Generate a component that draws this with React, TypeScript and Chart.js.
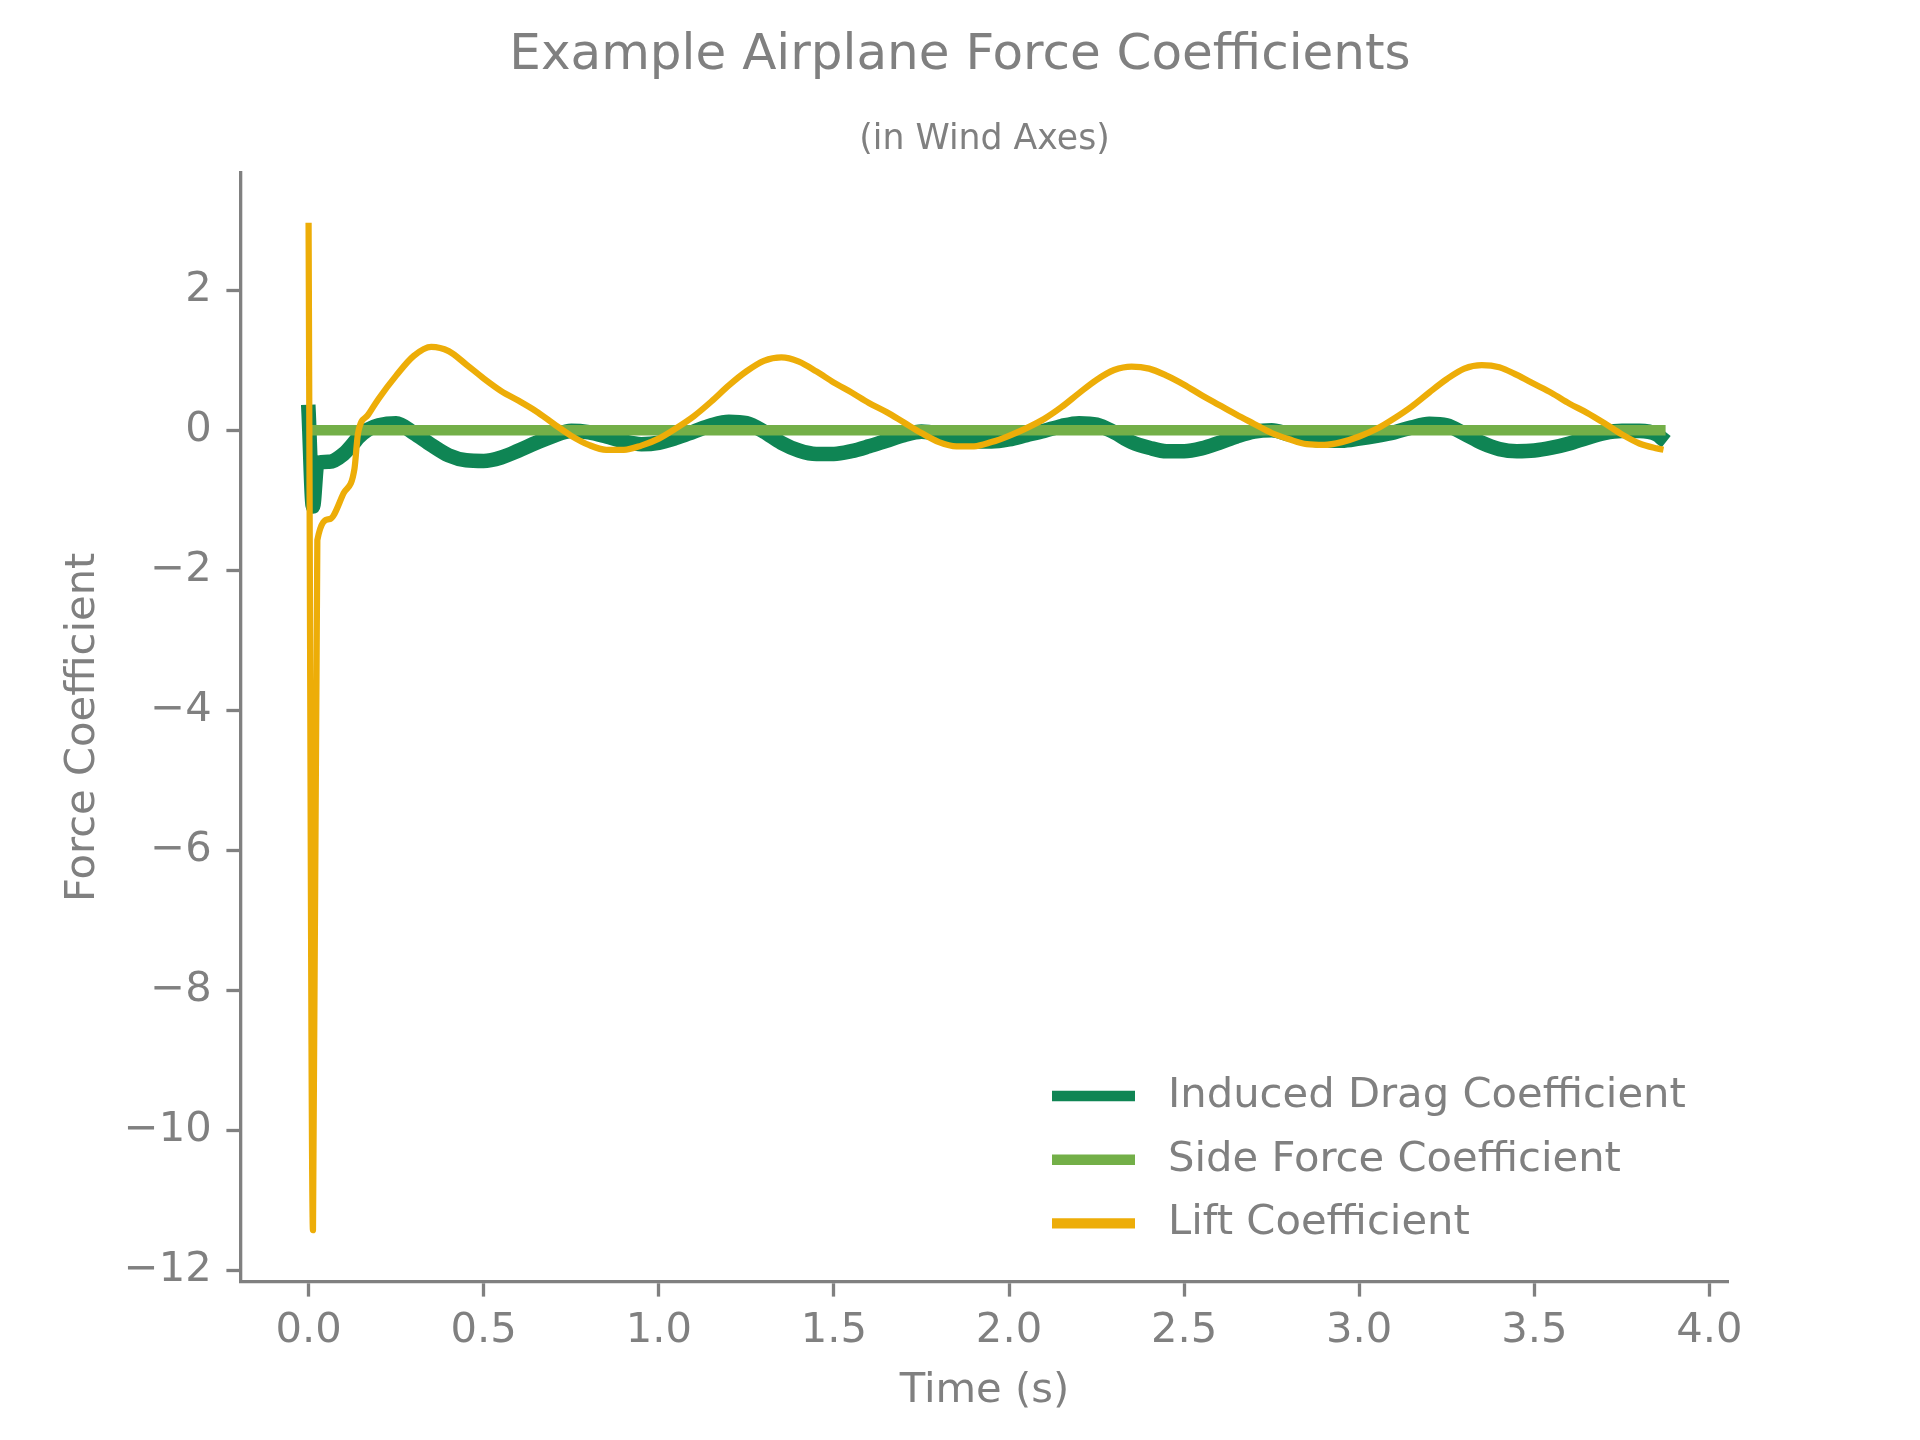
import { useEffect, useRef } from "react";
import { Chart, registerables } from "chart.js";

Chart.register(...registerables);

// Simulation time stamps (s)
const TIME = [
  0, 0.0125, 0.025, 0.06, 0.1, 0.131, 0.141, 0.17, 0.2,
  0.25, 0.3, 0.35, 0.4, 0.45, 0.5, 0.55, 0.6, 0.65, 0.7, 0.75, 0.8, 0.85, 0.9, 0.95,
  1.0, 1.05, 1.1, 1.15, 1.2, 1.25, 1.3, 1.35, 1.4, 1.45, 1.5, 1.55, 1.6, 1.65, 1.7, 1.75,
  1.8, 1.85, 1.9, 1.95, 2.0, 2.05, 2.1, 2.15, 2.2, 2.25, 2.3, 2.35, 2.4, 2.45, 2.5, 2.55,
  2.6, 2.65, 2.7, 2.75, 2.8, 2.85, 2.9, 2.95, 3.0, 3.05, 3.1, 3.15, 3.2, 3.25, 3.3, 3.35,
  3.4, 3.45, 3.5, 3.55, 3.6, 3.65, 3.7, 3.75, 3.8, 3.85, 3.86,
];

const INDUCED_DRAG = [
  0.26, -1.09, -0.47, -0.45, -0.34, -0.17, -0.11, 0.01, 0.07,
  0.1, -0.04, -0.21, -0.36, -0.43, -0.44, -0.39, -0.29, -0.18, -0.08, -0.01, -0.03, -0.09, -0.16, -0.2,
  -0.18, -0.11, -0.02, 0.07, 0.12, 0.1, -0.02, -0.18, -0.29, -0.34, -0.34, -0.3, -0.23, -0.15, -0.07, -0.02,
  -0.05, -0.11, -0.16, -0.16, -0.13, -0.07, -0.01, 0.06, 0.1, 0.08, -0.03, -0.17, -0.25, -0.3, -0.3, -0.26,
  -0.18, -0.09, -0.02, 0.0, -0.06, -0.12, -0.15, -0.15, -0.12, -0.08, -0.03, 0.04, 0.09, 0.07, -0.05, -0.18,
  -0.27, -0.3, -0.29, -0.25, -0.19, -0.11, -0.04, -0.01, -0.01, -0.06, -0.1,
];

const SIDE_FORCE = [
  null, 0, 0, 0, 0, 0, 0, 0, 0,
  0, 0, 0, 0, 0, 0, 0, 0, 0, 0, 0, 0, 0, 0, 0,
  0, 0, 0, 0, 0, 0, 0, 0, 0, 0, 0, 0, 0, 0, 0, 0,
  0, 0, 0, 0, 0, 0, 0, 0, 0, 0, 0, 0, 0, 0, 0, 0,
  0, 0, 0, 0, 0, 0, 0, 0, 0, 0, 0, 0, 0, 0, 0, 0,
  0, 0, 0, 0, 0, 0, 0, 0, 0, 0, 0,
];

const LIFT = [
  2.92, -11.43, -1.57, -1.27, -0.9, -0.55, -0.05, 0.22, 0.45,
  0.78, 1.06, 1.19, 1.13, 0.94, 0.74, 0.56, 0.42, 0.27, 0.09, -0.08, -0.21, -0.28, -0.28, -0.22,
  -0.12, 0.03, 0.2, 0.41, 0.64, 0.84, 0.99, 1.04, 0.98, 0.84, 0.68, 0.54, 0.39, 0.26, 0.11, -0.04,
  -0.17, -0.23, -0.23, -0.17, -0.08, 0.03, 0.16, 0.33, 0.53, 0.72, 0.86, 0.91, 0.88, 0.78, 0.65, 0.5,
  0.36, 0.22, 0.09, -0.04, -0.13, -0.2, -0.21, -0.17, -0.09, 0.02, 0.17, 0.34, 0.54, 0.73, 0.88, 0.93,
  0.9, 0.79, 0.66, 0.53, 0.38, 0.25, 0.1, -0.06, -0.19, -0.26, -0.27,
];

const SERIES_LABELS = ["Induced Drag Coefficient", "Side Force Coefficient", "Lift Coefficient"];
const SERIES_COLORS = ["#0F8554", "#73AF48", "#EDAD08"];

const X_TICKS = [0, 0.5, 1.0, 1.5, 2.0, 2.5, 3.0, 3.5, 4.0];
const X_TICK_LABELS = ["0.0", "0.5", "1.0", "1.5", "2.0", "2.5", "3.0", "3.5", "4.0"];
const Y_TICKS = [-12, -10, -8, -6, -4, -2, 0, 2];
const Y_TICK_LABELS = ["\u221212", "\u221210", "\u22128", "\u22126", "\u22124", "\u22122", "0", "2"];

const TITLE = "Example Airplane Force Coefficients";
const SUBTITLE = "(in Wind Axes)";
const X_TITLE = "Time (s)";
const Y_TITLE = "Force Coefficient";

const GREY = "#808080";
const FONT = "'DejaVu Sans', 'Liberation Sans', sans-serif";
const BASE = 41.7;

// Legend drawn inside the plot area, lower right
const insideLegend = {
  id: "insideLegend",
  afterDraw(chart: any) {
    const { ctx, chartArea } = chart;
    ctx.save();
    ctx.font = `${BASE}px ${FONT}`;
    ctx.textBaseline = "middle";
    ctx.textAlign = "left";
    chart.data.datasets.forEach((ds: any, i: number) => {
      const y = chartArea.bottom - 186 + i * 63.7;
      ctx.strokeStyle = ds.borderColor;
      ctx.lineWidth = 10.4;
      ctx.lineCap = "butt";
      ctx.beginPath();
      ctx.moveTo(chartArea.right - 676, y);
      ctx.lineTo(chartArea.right - 593, y);
      ctx.stroke();
      ctx.fillStyle = GREY;
      ctx.fillText(ds.label, chartArea.right - 560, y);
    });
    ctx.restore();
  },
};

export default function App() {
  const ref = useRef<HTMLCanvasElement>(null);

  useEffect(() => {
    document.body.style.margin = "0";
    const canvas = ref.current;
    if (!canvas) return;
    const toPoints = (vals: (number | null)[]) => TIME.map((t, i) => ({ x: t, y: vals[i] }));

    const chart = new Chart(canvas, {
      type: "line",
      data: {
        datasets: [
          {
            label: SERIES_LABELS[0],
            data: toPoints(INDUCED_DRAG),
            borderColor: SERIES_COLORS[0],
            backgroundColor: SERIES_COLORS[0],
            borderWidth: 14.6,
            order: 2,
          },
          {
            label: SERIES_LABELS[1],
            data: toPoints(SIDE_FORCE),
            borderColor: SERIES_COLORS[1],
            backgroundColor: SERIES_COLORS[1],
            borderWidth: 10.4,
            order: 1,
          },
          {
            label: SERIES_LABELS[2],
            data: toPoints(LIFT),
            borderColor: SERIES_COLORS[2],
            backgroundColor: SERIES_COLORS[2],
            borderWidth: 6.25,
            order: 0,
          },
        ],
      } as any,
      options: {
        responsive: false,
        animation: false,
        devicePixelRatio: 1,
        layout: { padding: 0 },
        elements: {
          point: { radius: 0 },
          line: {
            cubicInterpolationMode: "monotone",
            borderCapStyle: "square",
            borderJoinStyle: "round",
            fill: false,
          },
        },
        plugins: {
          legend: { display: false },
          tooltip: { enabled: false },
          title: {
            display: true,
            text: TITLE,
            color: GREY,
            font: { family: FONT, size: 50, weight: "normal" },
            padding: { top: 26, bottom: 0 },
          },
          subtitle: {
            display: true,
            text: SUBTITLE,
            fullSize: false,
            color: GREY,
            font: { family: FONT, size: 34.7, weight: "normal" },
            padding: { top: 32.9, bottom: 12.1 },
          },
        },
        scales: {
          x: {
            type: "linear",
            min: -0.193,
            max: 4.053,
            afterBuildTicks: (s: any) => {
              s.ticks = X_TICKS.map((v) => ({ value: v }));
            },
            afterFit: (s: any) => {
              s.height = 158;
            },
            ticks: {
              autoSkip: false,
              maxRotation: 0,
              color: GREY,
              padding: 10,
              font: { family: FONT, size: BASE },
              callback: (v: any) => {
                const i = X_TICKS.indexOf(Number(v));
                return i >= 0 ? X_TICK_LABELS[i] : "";
              },
            },
            grid: {
              display: true,
              drawOnChartArea: false,
              drawTicks: true,
              tickLength: 14.6,
              tickWidth: 3.3,
              tickColor: GREY,
            },
            border: { display: true, color: GREY, width: 3.3 },
            title: {
              display: true,
              text: X_TITLE,
              color: GREY,
              font: { family: FONT, size: BASE },
              padding: { top: 0, bottom: 24 },
            },
          },
          y: {
            type: "linear",
            min: -12.17,
            max: 3.68,
            afterBuildTicks: (s: any) => {
              s.ticks = Y_TICKS.map((v) => ({ value: v }));
            },
            afterFit: (s: any) => {
              s.width = 241;
            },
            ticks: {
              autoSkip: false,
              color: GREY,
              padding: 14.6,
              font: { family: FONT, size: BASE },
              callback: (v: any) => {
                const i = Y_TICKS.indexOf(Number(v));
                return i >= 0 ? Y_TICK_LABELS[i] : "";
              },
            },
            grid: {
              display: true,
              drawOnChartArea: false,
              drawTicks: true,
              tickLength: 14.6,
              tickWidth: 3.3,
              tickColor: GREY,
            },
            border: { display: true, color: GREY, width: 3.3 },
            title: {
              display: true,
              text: Y_TITLE,
              color: GREY,
              font: { family: FONT, size: BASE },
              padding: { top: 58, bottom: 0 },
            },
          },
          // Empty right-hand margin axis: reserves the space right of the plot
          margin: {
            type: "linear",
            position: "right",
            display: true,
            ticks: { display: false },
            grid: { display: false, drawTicks: false },
            border: { display: false },
            afterFit: (s: any) => {
              s.width = 192;
            },
          },
        },
      } as any,
      plugins: [insideLegend],
    });

    return () => chart.destroy();
  }, []);

  return (
    <canvas
      ref={ref}
      width={1920}
      height={1440}
      style={{ display: "block", width: "1920px", height: "1440px" }}
    />
  );
}
